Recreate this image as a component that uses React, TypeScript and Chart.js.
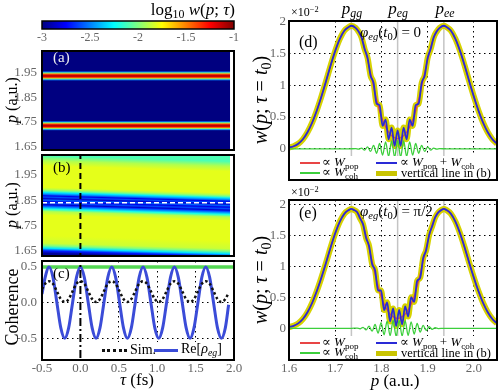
import React, { useEffect, useRef } from "react";
import { Chart, registerables } from "chart.js";

Chart.register(...registerables);

const FONT = "'Liberation Serif', 'DejaVu Serif', serif";
const W = 502;
const H = 390;

// ---------------- data ----------------
// colour bar (log10 w)
const CB_MIN = -3;
const CB_MAX = -1;
const CB_TICKS = [-3, -2.5, -2, -1.5, -1];

// delay axis (fs)
const TAU_TICKS = [-0.5, 0, 0.5, 1, 1.5, 2];
const TAU_DATA = [-0.5, 1.95];
const P_TICKS_MAP = [1.65, 1.75, 1.85, 1.95];

// panel (a): log10 w profile along p (constant in tau)
const A_P = [1.63, 1.711, 1.715, 1.719, 1.723, 1.727, 1.731, 1.735, 1.739, 1.743, 1.747, 1.751, 1.755, 1.759,
  1.913, 1.917, 1.921, 1.925, 1.929, 1.933, 1.937, 1.941, 1.945, 1.949, 1.953, 1.957, 1.961, 2.04];
const A_LOG = [-3.3, -3.3, -3.0, -2.5, -2.0, -1.5, -1.2, -1.08, -1.2, -1.5, -2.0, -2.5, -3.0, -3.3,
  -3.3, -3.0, -2.5, -2.0, -1.5, -1.2, -1.08, -1.2, -1.5, -2.0, -2.5, -3.0, -3.3, -3.3];

// panel (b): log10 w profile along p
const B_P = [1.63, 1.64, 1.65, 1.66, 1.67, 1.7, 1.78, 1.795, 1.805, 1.812, 1.818, 1.822, 1.828, 1.834, 1.84,
  1.846, 1.852, 1.857, 1.863, 1.87, 1.876, 1.882, 1.89, 1.975, 1.995, 2.015, 2.035];
const B_LOG = [-2.95, -2.7, -2.3, -2.0, -1.85, -1.8, -1.8, -1.9, -2.2, -2.45, -2.65, -2.85, -2.6, -2.8, -2.55,
  -2.85, -2.6, -2.8, -2.5, -2.3, -2.05, -1.9, -1.8, -1.8, -1.9, -2.1, -2.25];
const B_DASH_P = 1.84;
const T0 = 0;

// panel (c): coherence vs tau
const C_TAU = [-0.5, -0.459, -0.408, -0.357, -0.306, -0.255, -0.204, -0.153, -0.102, -0.051, 0, 0.051, 0.102,
  0.153, 0.204, 0.255, 0.306, 0.357, 0.408, 0.459, 0.51, 0.561, 0.612, 0.663, 0.714, 0.765, 0.816, 0.867, 0.918,
  0.969, 1.02, 1.071, 1.122, 1.173, 1.224, 1.275, 1.326, 1.377, 1.428, 1.479, 1.53, 1.581, 1.632, 1.683, 1.734,
  1.785, 1.836, 1.887, 1.93];
const C_RE = [0.12, 0.354, 0.5, 0.354, 0, -0.354, -0.5, -0.354, 0, 0.354,
  0.5, 0.354, 0, -0.354, -0.5, -0.354, 0, 0.354,
  0.5, 0.354, 0, -0.354, -0.5, -0.354, 0, 0.354,
  0.5, 0.354, 0, -0.354, -0.5, -0.354, 0, 0.354,
  0.5, 0.354, 0, -0.354, -0.5, -0.354, 0, 0.354,
  0.5, 0.354, 0, -0.354, -0.5, -0.354, -0.03];
const C_SIM = [0.19, 0.265, 0.3, 0.265, 0.16, 0.05, 0.01, 0.05, 0.16, 0.265,
  0.3, 0.265, 0.16, 0.05, 0.01, 0.05, 0.16, 0.265,
  0.3, 0.265, 0.16, 0.05, 0.01, 0.05, 0.16, 0.265,
  0.3, 0.265, 0.16, 0.05, 0.01, 0.05, 0.16, 0.265,
  0.3, 0.265, 0.16, 0.05, 0.01, 0.05, 0.16, 0.265,
  0.3, 0.265, 0.16, 0.05, 0.01, 0.05, 0.14];
const C_LEVEL = 0.5;
const C_TICKS_Y = [-0.5, 0, 0.5];

// panels (d),(e): w(p; tau = t0) in units of 1e-2
const P_MARKS = [1.735, 1.835, 1.935];
const P_TICKS = [1.6, 1.7, 1.8, 1.9, 2.0];
const W_TICKS = [0, 0.5, 1, 1.5, 2];
const POP_P = [1.6, 1.61, 1.62, 1.63, 1.64, 1.65, 1.66, 1.67, 1.68, 1.69, 1.7, 1.71, 1.72, 1.73, 1.735, 1.74,
  1.75, 1.76, 1.77, 1.78, 1.79, 1.8, 1.81, 1.82, 1.83, 1.835, 1.84, 1.85, 1.86, 1.87, 1.88, 1.89, 1.9, 1.91,
  1.92, 1.93, 1.935, 1.94, 1.95, 1.96, 1.97, 1.98, 1.99, 2.0, 2.01, 2.02, 2.03, 2.04, 2.05];
const POP_W = [0.02, 0.04, 0.08, 0.15, 0.26, 0.41, 0.6, 0.82, 1.06, 1.31, 1.54, 1.73, 1.86, 1.92, 1.935, 1.92,
  1.86, 1.68, 1.4, 1.08, 0.76, 0.5, 0.33, 0.22, 0.17, 0.16, 0.17, 0.22, 0.33, 0.5, 0.76, 1.08, 1.4, 1.68,
  1.86, 1.92, 1.935, 1.92, 1.86, 1.73, 1.54, 1.31, 1.06, 0.82, 0.6, 0.41, 0.26, 0.15, 0.08];

const D_COH_P = [1.6, 1.73, 1.744, 1.7505, 1.757, 1.7635, 1.77, 1.7765, 1.783, 1.7895, 1.796, 1.8025, 1.809,
  1.8155, 1.822, 1.8285, 1.835, 1.8415, 1.848, 1.8545, 1.861, 1.8675, 1.874, 1.8805, 1.887, 1.8935, 1.9, 1.9065,
  1.913, 1.9195, 1.926, 1.94, 2.05];
const D_COH_W = [0, 0, 0.003, -0.006, 0.012, -0.02, 0.03, -0.04, 0.055, -0.07, 0.085, -0.1, 0.11, -0.12, 0.125,
  -0.13, 0.13, -0.13, 0.125, -0.12, 0.11, -0.1, 0.085, -0.07, 0.055, -0.04, 0.03, -0.02, 0.012, -0.006, 0.003, 0, 0];
const D_SUM_P = [1.6, 1.61, 1.62, 1.63, 1.64, 1.65, 1.66, 1.67, 1.68, 1.69, 1.7, 1.71, 1.72, 1.73, 1.735,
  1.744, 1.7505, 1.757, 1.7635, 1.77, 1.7765, 1.783, 1.7895, 1.796, 1.8025, 1.809, 1.8155, 1.822, 1.8285, 1.835,
  1.8415, 1.848, 1.8545, 1.861, 1.8675, 1.874, 1.8805, 1.887, 1.8935, 1.9, 1.9065, 1.913, 1.9195, 1.926,
  1.935, 1.94, 1.95, 1.96, 1.97, 1.98, 1.99, 2.0, 2.01, 2.02, 2.03, 2.04, 2.05];
const D_SUM_W = [0.02, 0.04, 0.08, 0.15, 0.26, 0.41, 0.6, 0.82, 1.06, 1.31, 1.54, 1.73, 1.86, 1.92, 1.935,
  1.903, 1.844, 1.752, 1.57, 1.43, 1.15, 1.035, 0.71, 0.685, 0.36, 0.46, 0.15, 0.335, 0.045, 0.29,
  0.045, 0.335, 0.15, 0.46, 0.36, 0.685, 0.71, 1.035, 1.15, 1.43, 1.57, 1.752, 1.844, 1.903,
  1.935, 1.92, 1.86, 1.73, 1.54, 1.31, 1.06, 0.82, 0.6, 0.41, 0.26, 0.15, 0.08];

const E_COH_P = [1.6, 1.735, 1.74725, 1.75375, 1.76025, 1.76675, 1.77325, 1.77975, 1.78625, 1.79275, 1.79925,
  1.80575, 1.81225, 1.81875, 1.82525, 1.83175, 1.83825, 1.84475, 1.85125, 1.85775, 1.86425, 1.87075, 1.87725,
  1.88375, 1.89025, 1.89675, 1.90325, 1.90975, 1.91625, 1.92275, 1.935, 2.05];
const E_COH_W = [0, 0, 0.004, -0.009, 0.016, -0.025, 0.035, -0.047, 0.062, -0.078, 0.093, -0.105, 0.115, -0.122,
  0.128, -0.13, 0.13, -0.128, 0.122, -0.115, 0.105, -0.093, 0.078, -0.062, 0.047, -0.035, 0.025, -0.016, 0.009,
  -0.004, 0, 0];
const E_SUM_P = [1.6, 1.61, 1.62, 1.63, 1.64, 1.65, 1.66, 1.67, 1.68, 1.69, 1.7, 1.71, 1.72, 1.73, 1.735, 1.74,
  1.74725, 1.75375, 1.76025, 1.76675, 1.77325, 1.77975, 1.78625, 1.79275, 1.79925, 1.80575, 1.81225, 1.81875,
  1.82525, 1.83175, 1.83825, 1.84475, 1.85125, 1.85775, 1.86425, 1.87075, 1.87725, 1.88375, 1.89025, 1.89675,
  1.90325, 1.90975, 1.91625, 1.92275,
  1.93, 1.935, 1.94, 1.95, 1.96, 1.97, 1.98, 1.99, 2.0, 2.01, 2.02, 2.03, 2.04, 2.05];
const E_SUM_W = [0.02, 0.04, 0.08, 0.15, 0.26, 0.41, 0.6, 0.82, 1.06, 1.31, 1.54, 1.73, 1.86, 1.92, 1.935, 1.92,
  1.884, 1.781, 1.686, 1.465, 1.335, 1.043, 0.942, 0.612, 0.613, 0.295, 0.421, 0.112, 0.322, 0.037, 0.297, 0.066,
  0.356, 0.191, 0.505, 0.427, 0.768, 0.818, 1.137, 1.265, 1.515, 1.654, 1.799, 1.876,
  1.92, 1.935, 1.92, 1.86, 1.73, 1.54, 1.31, 1.06, 0.82, 0.6, 0.41, 0.26, 0.15, 0.08];

// ---------------- helpers ----------------
const JET_STOPS = [0, 0.125, 0.375, 0.625, 0.875, 1];

function jetRGB(t: number): string {
  const tt = Math.max(0, Math.min(1, t));
  const c = (v: number) => Math.round(255 * Math.max(0, Math.min(1, v)));
  return `rgb(${c(1.5 - Math.abs(4 * tt - 3))},${c(1.5 - Math.abs(4 * tt - 2))},${c(1.5 - Math.abs(4 * tt - 1))})`;
}
const logToT = (v: number) => (v - CB_MIN) / (CB_MAX - CB_MIN);
const pts = (xs: number[], ys: number[]) => xs.map((x, i) => ({ x, y: ys[i] }));

function heatFill(ps: number[], logs: number[], tilt: number) {
  return (ctx: any) => {
    const chart = ctx.chart;
    const a = chart.chartArea;
    if (!a) return "rgba(0,0,0,0)";
    const ys = chart.scales.y;
    const h = a.bottom - a.top;
    const xc = (a.left + a.right) / 2;
    const g = chart.ctx.createLinearGradient(xc, a.top, xc - tilt * h, a.bottom);
    ps.forEach((p: number, i: number) => {
      const pos = (ys.getPixelForValue(p) - a.top) / h;
      if (pos >= 0 && pos <= 1) g.addColorStop(pos, jetRGB(logToT(logs[i])));
    });
    return g;
  };
}

function cbFill(ctx: any) {
  const chart = ctx.chart;
  const a = chart.chartArea;
  if (!a) return "rgba(0,0,0,0)";
  const g = chart.ctx.createLinearGradient(a.left, 0, a.right, 0);
  JET_STOPS.forEach((t) => g.addColorStop(t, jetRGB(t)));
  return g;
}

const framePlugin = {
  id: "frame",
  afterDraw(chart: any, _args: any, opts: any) {
    const a = chart.chartArea;
    const c = chart.ctx;
    c.save();
    c.strokeStyle = "#000";
    c.lineWidth = opts && opts.width ? opts.width : 2;
    c.strokeRect(a.left, a.top, a.right - a.left, a.bottom - a.top);
    c.restore();
  },
};

type Box = { L: number; T: number; R: number; B: number };

function base(box: Box, yW: number, xH: number) {
  return {
    responsive: false,
    animation: false as const,
    events: [] as any[],
    layout: { padding: { left: box.L - yW, top: box.T, right: W - box.R, bottom: H - box.B - xH } },
    plugins: { legend: { display: false }, tooltip: { enabled: false } },
    elements: { point: { radius: 0 } },
  };
}

const tickFont = { family: FONT, size: 13 };

function setTicks(vals: number[]) {
  return (s: any) => {
    s.ticks = vals.map((v) => ({ value: v }));
  };
}

// ---------------- chart configs ----------------
const BOX_CB = { L: 42, T: 21, R: 234, B: 29 };
const BOX_A = { L: 42, T: 51, R: 234, B: 150 };
const BOX_B = { L: 42, T: 155, R: 234, B: 256 };
const BOX_C = { L: 42, T: 261, R: 234, B: 360 };
const BOX_D = { L: 289, T: 21, R: 497, B: 180 };
const BOX_E = { L: 289, T: 200, R: 497, B: 360 };

function cfgColorbar(): any {
  return {
    type: "line",
    data: {
      datasets: [
        { data: [{ x: CB_MIN, y: 1 }, { x: CB_MAX, y: 1 }], borderWidth: 0, fill: "start", backgroundColor: cbFill },
      ],
    },
    options: {
      ...base(BOX_CB, 0, 14),
      plugins: { legend: { display: false }, tooltip: { enabled: false }, frame: { width: 1.5 } },
      scales: {
        x: {
          type: "linear", min: CB_MIN, max: CB_MAX,
          afterBuildTicks: setTicks(CB_TICKS),
          afterFit: (s: any) => { s.height = 14; },
          grid: { display: false, drawTicks: false },
          border: { display: false },
          ticks: { font: { family: FONT, size: 12 }, padding: 2, maxRotation: 0, callback: (v: any) => String(v) },
        },
        y: { type: "linear", min: 0, max: 1, display: false },
      },
    },
    plugins: [framePlugin],
  };
}

function mapScales(pMin: number, pMax: number) {
  return {
    x: { type: "linear", min: -0.5, max: 2, display: false },
    y: {
      type: "linear", min: pMin, max: pMax,
      afterBuildTicks: setTicks(P_TICKS_MAP),
      afterFit: (s: any) => { s.width = 40; },
      grid: { display: false, drawTicks: false },
      border: { display: false },
      ticks: { font: tickFont, padding: 5, callback: (v: any) => Number(v).toFixed(2) },
    },
  };
}

function cfgA(): any {
  return {
    type: "line",
    data: {
      datasets: [
        {
          data: [{ x: TAU_DATA[0], y: 2.1 }, { x: TAU_DATA[1], y: 2.1 }],
          borderWidth: 0, fill: "start", backgroundColor: heatFill(A_P, A_LOG, 0),
        },
      ],
    },
    options: { ...base(BOX_A, 40, 0), scales: mapScales(1.6366, 2.038) },
    plugins: [framePlugin],
  };
}

function cfgB(): any {
  return {
    type: "line",
    data: {
      datasets: [
        {
          data: [{ x: T0, y: 1.5 }, { x: T0, y: 2.1 }],
          borderColor: "#000", borderWidth: 2, borderDash: [6, 4], order: 0,
        },
        {
          data: [{ x: TAU_DATA[0], y: B_DASH_P }, { x: TAU_DATA[1], y: B_DASH_P }],
          borderColor: "#fff", borderWidth: 1.5, borderDash: [5, 3], order: 1,
        },
        {
          data: [{ x: TAU_DATA[0], y: 2.1 }, { x: TAU_DATA[1], y: 2.1 }],
          borderWidth: 0, fill: "start", backgroundColor: heatFill(B_P, B_LOG, 0.03), order: 5,
        },
      ],
    },
    options: { ...base(BOX_B, 40, 0), scales: mapScales(1.63, 2.029) },
    plugins: [framePlugin],
  };
}

function cfgC(): any {
  return {
    type: "line",
    data: {
      datasets: [
        {
          data: [{ x: -0.5, y: C_LEVEL }, { x: 2, y: C_LEVEL }],
          borderColor: "#55d855", borderWidth: 3.5, order: 4,
        },
        {
          data: [{ x: T0, y: -1 }, { x: T0, y: 1 }],
          borderColor: "#000", borderWidth: 2, borderDash: [8, 3, 2, 3], order: 0,
        },
        {
          data: pts(C_TAU, C_SIM), borderColor: "#111", borderWidth: 2.5, borderDash: [2.5, 2.5],
          cubicInterpolationMode: "monotone", order: 1,
        },
        {
          data: pts(C_TAU, C_RE), borderColor: "#3b4cd8", borderWidth: 3,
          cubicInterpolationMode: "monotone", order: 2,
        },
      ],
    },
    options: {
      ...base(BOX_C, 40, 14),
      scales: {
        x: {
          type: "linear", min: -0.5, max: 2,
          afterBuildTicks: setTicks(TAU_TICKS),
          afterFit: (s: any) => { s.height = 14; },
          grid: {
            drawTicks: false, lineWidth: 1,
            color: (c: any) => (c.tick && (c.tick.value === 0.5 || c.tick.value === 1 || c.tick.value === 1.5) ? "#000" : "rgba(0,0,0,0)"),
          },
          border: { display: false, dash: [1.5, 3.5] },
          ticks: { font: tickFont, padding: 1, maxRotation: 0, callback: (v: any) => Number(v).toFixed(1) },
        },
        y: {
          type: "linear", min: -0.804, max: 0.584,
          afterBuildTicks: setTicks(C_TICKS_Y),
          afterFit: (s: any) => { s.width = 40; },
          grid: { drawTicks: false, color: "#000", lineWidth: 1 },
          border: { display: false, dash: [1.5, 3.5] },
          ticks: { font: tickFont, padding: 5, callback: (v: any) => Number(v).toFixed(1) },
        },
      },
    },
    plugins: [framePlugin],
  };
}

function cfgW(box: Box, cohP: number[], cohW: number[], sumP: number[], sumW: number[], yMin: number, yMax: number, showX: boolean): any {
  const marks = P_MARKS.map((p) => ({
    data: [{ x: p, y: -1 }, { x: p, y: 3 }],
    borderColor: "#c4c4c4", borderWidth: 1.5, order: 10,
  }));
  return {
    type: "line",
    data: {
      datasets: [
        ...marks,
        { data: pts(sumP, sumW), borderColor: "#d6d200", borderWidth: 6, cubicInterpolationMode: "monotone", order: 5 },
        { data: pts(POP_P, POP_W), borderColor: "#e84545", borderWidth: 1.3, cubicInterpolationMode: "monotone", order: 3 },
        { data: pts(sumP, sumW), borderColor: "#2a2ad6", borderWidth: 1.8, cubicInterpolationMode: "monotone", order: 2 },
        { data: pts(cohP, cohW), borderColor: "#3ccf3c", borderWidth: 1.3, cubicInterpolationMode: "monotone", order: 1 },
      ],
    },
    options: {
      ...base(box, 30, showX ? 14 : 0),
      scales: {
        x: {
          type: "linear", min: 1.6, max: 2.05,
          afterBuildTicks: setTicks(P_TICKS),
          afterFit: (s: any) => { s.height = showX ? 14 : 0; },
          grid: { drawTicks: false, color: "#000", lineWidth: 1 },
          border: { display: false, dash: [1.5, 3.5] },
          ticks: { display: showX, font: tickFont, padding: 1, maxRotation: 0, callback: (v: any) => Number(v).toFixed(1) },
        },
        y: {
          type: "linear", min: yMin, max: yMax,
          afterBuildTicks: setTicks(W_TICKS),
          afterFit: (s: any) => { s.width = 30; },
          grid: { drawTicks: false, color: "#000", lineWidth: 1 },
          border: { display: false, dash: [1.5, 3.5] },
          ticks: { font: tickFont, padding: 3, callback: (v: any) => String(v) },
        },
      },
    },
    plugins: [framePlugin],
  };
}

// ---------------- components ----------------
function ChartCanvas({ make }: { make: () => any }) {
  const ref = useRef<HTMLCanvasElement>(null);
  useEffect(() => {
    const ch = new Chart(ref.current as HTMLCanvasElement, make());
    return () => ch.destroy();
  }, []);
  return <canvas ref={ref} width={W} height={H} style={{ position: "absolute", left: 0, top: 0, width: W, height: H }} />;
}

type TP = { x: number; y: number; a?: "l" | "c" | "r"; s?: number; r?: number; c?: string; children?: any };
function T({ x, y, a = "l", s = 14, r = 0, c = "#000", children }: TP) {
  const tx = a === "l" ? "0" : a === "c" ? "-50%" : "-100%";
  return (
    <div
      style={{
        position: "absolute", left: x, top: y, transform: `translate(${tx},-50%) rotate(${r}deg)`,
        fontSize: s, color: c, whiteSpace: "nowrap", lineHeight: 1, fontFamily: FONT,
      }}
    >
      {children}
    </div>
  );
}
const Sub = ({ children }: any) => <span style={{ fontSize: "0.7em", verticalAlign: "-0.3em" }}>{children}</span>;
const Sup = ({ children }: any) => <span style={{ fontSize: "0.7em", verticalAlign: "0.45em" }}>{children}</span>;
const I = ({ children }: any) => <i>{children}</i>;

function Line({ x1, x2, y, color, w, dotted }: { x1: number; x2: number; y: number; color: string; w: number; dotted?: boolean }) {
  return (
    <div
      style={{
        position: "absolute", left: x1, top: y - w / 2, width: x2 - x1, height: dotted ? 0 : w,
        background: dotted ? "transparent" : color, borderTop: dotted ? `${w}px dotted ${color}` : "none",
      }}
    />
  );
}

function WLegend({ y0 }: { y0: number }) {
  return (
    <>
      <div style={{ position: "absolute", left: 292, top: y0 - 7, width: 203, height: 22, background: "#fff" }} />
      <Line x1={300} x2={320} y={y0} color="#e84545" w={1.3} />
      <T x={322} y={y0} s={13}>∝ <I>W</I><Sub>pop</Sub></T>
      <Line x1={376} x2={397} y={y0} color="#2a2ad6" w={1.6} />
      <T x={400} y={y0} s={13}>∝ <I>W</I><Sub>pop</Sub> + <I>W</I><Sub>coh</Sub></T>
      <Line x1={300} x2={320} y={y0 + 10} color="#3ccf3c" w={1.3} />
      <T x={322} y={y0 + 10} s={13}>∝ <I>W</I><Sub>coh</Sub></T>
      <Line x1={376} x2={397} y={y0 + 10} color="#c9c400" w={5} />
      <T x={401} y={y0 + 10} s={12.5}>vertical line in (b)</T>
    </>
  );
}

export default function App() {
  return (
    <div style={{ position: "absolute", left: 0, top: 0, width: W, height: H, background: "#fff", overflow: "hidden", fontFamily: FONT }}>
      <ChartCanvas make={cfgColorbar} />
      <ChartCanvas make={cfgA} />
      <ChartCanvas make={cfgB} />
      <ChartCanvas make={cfgC} />
      <ChartCanvas make={() => cfgW(BOX_D, D_COH_P, D_COH_W, D_SUM_P, D_SUM_W, -0.49, 2.01, false)} />
      <ChartCanvas make={() => cfgW(BOX_E, E_COH_P, E_COH_W, E_SUM_P, E_SUM_W, -0.514, 2.08, true)} />

      {/* left column texts */}
      <T x={235} y={11} a="r" s={17}>log<Sub>10</Sub> <I>w</I>(<I>p</I>; <I>τ</I>)</T>
      <T x={53} y={57} s={15} c="#eee">(a)</T>
      <T x={53} y={167} s={15}>(b)</T>
      <T x={53} y={273} s={15}>(c)</T>
      <T x={12} y={100} a="c" s={16} r={-90}><I>p</I> (a.u.)</T>
      <T x={12} y={205} a="c" s={16} r={-90}><I>p</I> (a.u.)</T>
      <T x={12} y={307} a="c" s={18} r={-90}>Coherence</T>
      <T x={137} y={379} a="c" s={17}><I>τ</I> (fs)</T>

      {/* legend (c) */}
      <div style={{ position: "absolute", left: 98, top: 342, width: 135, height: 17, background: "#fff" }} />
      <Line x1={102} x2={127} y={350} color="#111" w={3} dotted />
      <T x={130} y={350} s={14}>Sim.</T>
      <Line x1={154} x2={178} y={350} color="#3b4cd8" w={3} />
      <T x={181} y={350} s={14}>Re[<I>ρ</I><Sub><I>eg</I></Sub>]</T>

      {/* right column texts */}
      <T x={291} y={12} s={12}>×10<Sup>−2</Sup></T>
      <T x={291} y={192} s={12}>×10<Sup>−2</Sup></T>
      <T x={352} y={10} a="c" s={17}><I>p</I><Sub><I>gg</I></Sub></T>
      <T x={398} y={10} a="c" s={17}><I>p</I><Sub><I>eg</I></Sub></T>
      <T x={445} y={10} a="c" s={17}><I>p</I><Sub><I>ee</I></Sub></T>
      <T x={299} y={42} s={16}>(d)</T>
      <T x={299} y={213} s={16}>(e)</T>
      <T x={360} y={34} s={15}><I>φ</I><Sub><I>eg</I></Sub>(<I>t</I><Sub>0</Sub>) = 0</T>
      <T x={360} y={213} s={15}><I>φ</I><Sub><I>eg</I></Sub>(<I>t</I><Sub>0</Sub>) = π/2</T>
      <T x={262} y={100} a="c" s={20} r={-90}><I>w</I>(<I>p</I>; <I>τ</I> = <I>t</I><Sub>0</Sub>)</T>
      <T x={262} y={280} a="c" s={20} r={-90}><I>w</I>(<I>p</I>; <I>τ</I> = <I>t</I><Sub>0</Sub>)</T>
      <T x={395} y={380} a="c" s={17}><I>p</I> (a.u.)</T>
      <WLegend y0={163} />
      <WLegend y0={343} />
    </div>
  );
}
